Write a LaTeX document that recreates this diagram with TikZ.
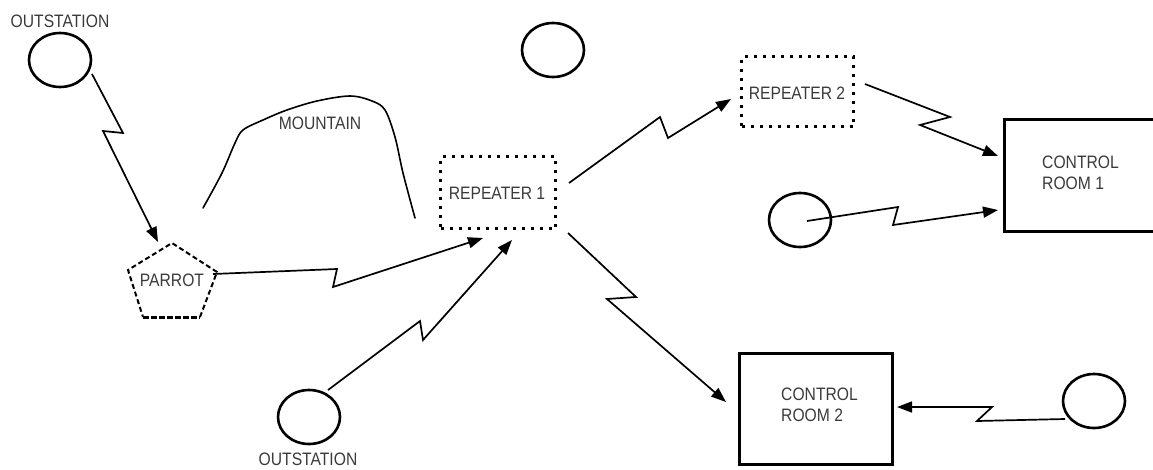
\documentclass[tikz,border=0pt]{standalone}
\usepackage{fontspec}
\setmainfont{Liberation Sans}[FakeStretch=0.87]
\usetikzlibrary{arrows.meta,shapes.geometric}
\definecolor{txt}{HTML}{3A3A3A}
\begin{document}
\begin{tikzpicture}[x=1pt,y=-1pt,
  station/.style={draw, ellipse, line width=2.6pt, minimum width=62pt, minimum height=54pt, inner sep=0pt},
  lbl/.style={text=txt, font=\fontsize{18}{21}\selectfont, inner sep=0pt},
  link/.style={line width=1.7pt, line join=miter, -{Triangle[length=15pt,width=11pt]}},
  repbox/.style={draw, line width=3pt, dash pattern=on 3pt off 6pt, inner sep=0pt},
  roombox/.style={draw, line width=3pt, inner sep=0pt},
  parrotline/.style={line width=2pt, dash pattern=on 5pt off 3pt}
]
\useasboundingbox (0,0) rectangle (1153,469);

% stations
\node[station] (o1) at (60,60) {};
\node[lbl] (o1lbl) at (60,21) {OUTSTATION};
\node[station] (o2) at (553,50) {};
\node[station] (o3) at (800,220) {};
\node[station] (o4) at (1094,401) {};
\node[station] (o5) at (309,417) {};
\node[lbl] (o5lbl) at (308,459) {OUTSTATION};

% parrot
\coordinate (p1) at (172,243);
\coordinate (p2) at (217,272);
\coordinate (p3) at (200,317);
\coordinate (p4) at (143,317);
\coordinate (p5) at (128,270);
\draw[parrotline] (p3) -- (p2) -- (p1) -- (p5) -- (p4);
\draw[line width=3pt, dash pattern=on 6pt off 2pt] (p4) -- (p3);
\node[lbl] (parrot) at (172,280) {PARROT};

% mountain
\draw[line width=1.6pt, line cap=round] plot[smooth, tension=0.55] coordinates {
  (203,208) (222,173) (235,143) (243,130) (263,120) (287,110) (317,101)
  (350,96) (372,101) (385,110) (395,137) (403,173) (415,218)};
\node[lbl] (mountain) at (320,123) {MOUNTAIN};

% repeaters
\node[repbox, minimum width=115pt, minimum height=72pt] (rep1) at (498,192.5) {};
\node[lbl] (rep1lbl) at (497,193) {REPEATER 1};
\node[repbox, minimum width=112pt, minimum height=70pt] (rep2) at (797.5,91.5) {};
\node[lbl] (rep2lbl) at (797,93) {REPEATER 2};

% control rooms
\node[roombox, minimum width=164pt, minimum height=112pt] (cr1) at (1086.5,175.5) {};
\node[lbl, anchor=west, align=left] (cr1lbl) at (1042,173) {CONTROL\\ROOM 1};
\node[roombox, minimum width=153pt, minimum height=111pt] (cr2) at (816,409) {};
\node[lbl, anchor=west, align=left] (cr2lbl) at (781,405) {CONTROL\\ROOM 2};

% radio links
\draw[link] ([shift={(32,14)}]o1.center) -- (123,133) -- (103,131) -- ([shift={(-14,-1)}]p1);
\draw[link] ([shift={(-4,2)}]p2) -- (337,269) -- (333,287) -- ([shift={(-15,8)}]rep1.south);
\draw[link] ([shift={(19,-27)}]o5.center) -- (420,321) -- (423,340) -- ([shift={(14,10)}]rep1.south);
\draw[link] ([shift={(12,-9.5)}]rep1.east) -- (660,117) -- (668,138) -- ([shift={(-9,7.5)}]rep2.west);
\draw[link] ([shift={(10,-7.5)}]rep2.east) -- (950,117) -- (920,125) -- ([shift={(-5,-19.5)}]cr1.west);
\draw[link] ([shift={(7,1)}]o3.center) -- (898,207) -- (893,225) -- ([shift={(-5,34.5)}]cr1.west);
\draw[link] ([shift={(11,3)}]rep1.south east) -- (636,297) -- (607,299) -- ([shift={(-12,-7)}]cr2.west);
\draw[link] ([shift={(-29,18)}]o4.center) -- (977,421) -- (992,407) -- ([shift={(3,-2)}]cr2.east);
\end{tikzpicture}
\end{document}
